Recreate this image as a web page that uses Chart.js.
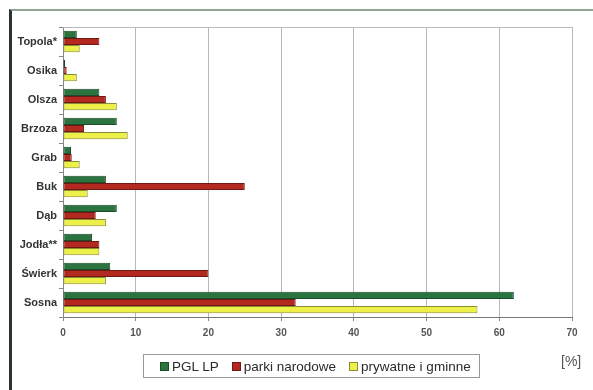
<!DOCTYPE html>
<html>
<head>
<meta charset="utf-8">
<script src="https://cdn.jsdelivr.net/npm/chart.js@4/dist/chart.umd.min.js"></script>
<style>
  html, body { margin: 0; padding: 0; background: #ffffff; }
  #wrap { position: relative; width: 593px; height: 390px; overflow: hidden; font-family: "Liberation Sans", Arial, sans-serif; }
  #frame { position: absolute; left: 9px; top: 9px; width: 700px; height: 500px;
           border-left: 3px solid #2a332c; border-top: 2px solid #8fa494; }
  #c { position: absolute; left: 0; top: 0; }
  #legend { position: absolute; left: 143px; top: 354px; width: 335px; height: 22px;
            border: 1px solid #9a9a9a; display: flex; align-items: center; box-sizing: content-box;
            font-size: 13.5px; color: #2a2a2a; white-space: nowrap; }
  .item { display: flex; align-items: center; margin-right: 13px; white-space: nowrap; flex: none; }
  .sw { width: 7px; height: 7px; margin-right: 3px; flex: none; }
  #unit { position: absolute; left: 561px; top: 353px; font-size: 14px; color: #555; }
</style>
</head>
<body>
<div id="wrap">
  <div id="frame"></div>
  <canvas id="c" width="593" height="390"></canvas>
  <div id="legend"></div>
  <div id="unit">[%]</div>
</div>
<script>
const categories = ['Topola*', 'Osika', 'Olsza', 'Brzoza', 'Grab', 'Buk', 'Dąb', 'Jodła**', 'Świerk', 'Sosna'];
const seriesNames = ['PGL LP', 'parki narodowe', 'prywatne i gminne'];
const pglLP = [1.9, 0.3, 5.0, 7.4, 1.1, 5.9, 7.4, 4.0, 6.5, 62];
const parkiNarodowe = [5.0, 0.5, 5.9, 2.9, 1.2, 25, 4.5, 5.0, 20, 32];
const prywatneGminne = [2.3, 1.9, 7.4, 8.9, 2.3, 3.4, 5.9, 5.0, 5.9, 57];
const xTickValues = [0, 10, 20, 30, 40, 50, 60, 70];
const unitLabel = '[%]';

const fills = ['#2b7440', '#b3291f', '#eef04a'];
const borders = ['#1d4a28', '#6e1a13', '#8c8c35'];
const seriesData = [pglLP, parkiNarodowe, prywatneGminne];

const plotFrame = {
  id: 'plotFrame',
  afterDraw(chart) {
    const a = chart.chartArea, ctx = chart.ctx;
    ctx.save();
    ctx.strokeStyle = '#b8b8b8';
    ctx.lineWidth = 1;
    ctx.beginPath();
    ctx.moveTo(a.left, a.top + 0.5);
    ctx.lineTo(a.right + 0.5, a.top + 0.5);
    ctx.lineTo(a.right + 0.5, a.bottom);
    ctx.stroke();
    ctx.restore();
  }
};

const chart = new Chart(document.getElementById('c'), {
  type: 'bar',
  data: {
    labels: categories,
    datasets: seriesData.map((d, i) => ({
      label: seriesNames[i],
      data: d,
      backgroundColor: fills[i],
      borderColor: borders[i],
      borderWidth: 1,
      borderSkipped: false,
      barPercentage: 1.0,
      categoryPercentage: 0.74
    }))
  },
  options: {
    indexAxis: 'y',
    responsive: false,
    animation: false,
    layout: { padding: { left: 0, top: 27, right: 21, bottom: 43 } },
    plugins: { legend: { display: false }, tooltip: { enabled: false } },
    scales: {
      x: {
        min: 0, max: 70,
        afterBuildTicks(s) { s.ticks = xTickValues.map(v => ({ value: v })); },
        afterFit(s) { s.height = 30; },
        grid: { color: '#b8b8b8', tickColor: '#888', tickLength: 4, lineWidth: 1 },
        border: { color: '#777', width: 1 },
        ticks: { padding: 6, color: '#555', font: { family: 'Liberation Sans, Arial', size: 10, weight: 'bold' } }
      },
      y: {
        afterFit(s) { s.width = 63; },
        grid: { drawOnChartArea: false, tickLength: 4, tickColor: '#888', offset: true },
        border: { color: '#888', width: 1 },
        ticks: { padding: 2, color: '#333', font: { family: 'Liberation Sans, Arial', size: 11, weight: 'bold' } }
      }
    }
  },
  plugins: [plotFrame]
});

// HTML legend built from dataset names/colours
const lg = document.getElementById('legend');
const inner = document.createElement('div');
inner.style.display = 'flex';
inner.style.marginLeft = '16px';
inner.style.whiteSpace = 'nowrap';
seriesNames.forEach((n, i) => {
  const it = document.createElement('div'); it.className = 'item';
  const sw = document.createElement('span'); sw.className = 'sw';
  sw.style.background = fills[i]; sw.style.border = '0.5px solid ' + borders[i];
  const tx = document.createElement('span'); tx.textContent = n;
  it.appendChild(sw); it.appendChild(tx); inner.appendChild(it);
});
lg.appendChild(inner);
document.getElementById('unit').textContent = unitLabel;
</script>
</body>
</html>
